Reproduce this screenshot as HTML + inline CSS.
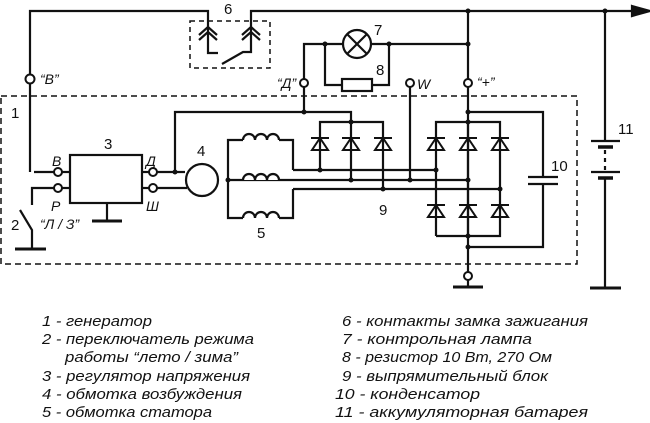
<!DOCTYPE html>
<html><head><meta charset="utf-8"><style>
html,body{margin:0;padding:0;background:#fff;}
svg{display:block;}
text{font-family:"Liberation Sans",sans-serif;font-style:italic;fill:#111;}
text.n{font-style:normal;}
</style></head><body>
<svg width="650" height="423" viewBox="0 0 650 423" xmlns="http://www.w3.org/2000/svg">
<defs>
<g id="dio"><polygon points="-8,16 8,16 0,4" fill="none" stroke="#111" stroke-width="2"/><line x1="-9" y1="4" x2="9" y2="4" stroke="#111" stroke-width="2"/></g>
</defs>
<g stroke="#111" stroke-width="2.2" fill="none">
<rect x="1" y="96" width="576" height="168" stroke-dasharray="6,4" stroke-width="1.5"/>
<rect x="190" y="21" width="80" height="47" stroke-dasharray="5,4" stroke-width="1.5"/>
<polyline points="30,172 30,11 208,11 208,53 218,53"/>
<polyline points="222,64 243,52 251,52 251,11 632,11"/>
<polygon points="632,6 650,11 632,16" fill="#111"/>
<polyline points="199,35 208,27 217,35"/><polyline points="199,40 208,32 217,40"/>
<polyline points="242,35 251,27 260,35"/><polyline points="242,40 251,32 260,40"/>
<rect x="70" y="155" width="72" height="48"/>
<line x1="34" y1="172" x2="54" y2="172"/>
<line x1="62" y1="172" x2="70" y2="172"/><line x1="62" y1="188" x2="70" y2="188"/>
<line x1="142" y1="172" x2="149" y2="172"/><line x1="142" y1="188" x2="149" y2="188"/>
<polyline points="54,188 32,188 32,205"/>
<polyline points="20,210 32,230 32,249"/>
<line x1="15" y1="249" x2="46" y2="249" stroke-width="3"/>
<line x1="107" y1="203" x2="107" y2="221"/>
<line x1="92" y1="221" x2="122" y2="221" stroke-width="3"/>
<polyline points="157,172 185,172"/><line x1="157" y1="188" x2="187" y2="188"/>
<circle cx="202" cy="180" r="16"/>
<polyline points="175,172 175,112 351,112 351,122"/>
<polyline points="304,112 304,87"/><polyline points="304,79 304,44 468,44"/>
<circle cx="357" cy="44" r="14" fill="#fff"/>
<line x1="347" y1="34" x2="367" y2="54"/><line x1="367" y1="34" x2="347" y2="54"/>
<polyline points="325,44 325,85 342,85"/><rect x="342" y="79" width="30" height="12"/>
<polyline points="372,85 389,85 389,44"/>
<line x1="410" y1="87" x2="410" y2="180"/>
<line x1="468" y1="11" x2="468" y2="79"/><line x1="468" y1="87" x2="468" y2="272"/>
<line x1="453" y1="287" x2="483" y2="287" stroke-width="3"/><line x1="468" y1="280" x2="468" y2="287"/>
<polyline points="468,112 543,112 543,177"/><polyline points="543,184 543,247 468,247"/>
<line x1="528" y1="177" x2="558" y2="177"/><line x1="528" y1="184" x2="558" y2="184"/>
<line x1="605" y1="11" x2="605" y2="141"/>
<line x1="591" y1="141" x2="620" y2="141"/><line x1="598" y1="147" x2="613" y2="147" stroke-width="3.5"/>
<line x1="605" y1="150" x2="605" y2="170" stroke-dasharray="4,4"/>
<line x1="591" y1="172" x2="620" y2="172"/><line x1="598" y1="178" x2="613" y2="178" stroke-width="3.5"/>
<line x1="605" y1="178" x2="605" y2="288"/>
<line x1="590" y1="288" x2="621" y2="288" stroke-width="3"/>
<polyline points="436,236 436,122 500,122 500,236 436,236"/>
<line x1="468" y1="122" x2="468" y2="236"/>
<polyline points="320,170 320,122 383,122 383,189"/>
<line x1="351" y1="122" x2="351" y2="180"/>
<line x1="293" y1="170" x2="436" y2="170"/>
<line x1="228" y1="180" x2="468" y2="180"/>
<line x1="293" y1="189" x2="500" y2="189"/>
<polyline points="243,140 228,140 228,218 243,218"/>
<polyline points="279,140 293,140 293,170"/>
<polyline points="279,218 293,218 293,189"/>
<path d="M243,140 a6,6 0 0 1 12,0 a6,6 0 0 1 12,0 a6,6 0 0 1 12,0" fill="#fff"/>
<path d="M243,180 a6,6 0 0 1 12,0 a6,6 0 0 1 12,0 a6,6 0 0 1 12,0" fill="#fff"/>
<path d="M243,218 a6,6 0 0 1 12,0 a6,6 0 0 1 12,0 a6,6 0 0 1 12,0" fill="#fff"/>
</g>
<g>
<use href="#dio" x="320" y="134"/><use href="#dio" x="351" y="134"/><use href="#dio" x="383" y="134"/>
<use href="#dio" x="436" y="134"/><use href="#dio" x="468" y="134"/><use href="#dio" x="500" y="134"/>
<use href="#dio" x="436" y="201"/><use href="#dio" x="468" y="201"/><use href="#dio" x="500" y="201"/>
</g>
<g stroke="#111" stroke-width="2" fill="#fff">
<circle cx="30" cy="79" r="4.5"/><circle cx="58" cy="172" r="4"/><circle cx="58" cy="188" r="4"/>
<circle cx="153" cy="172" r="4"/><circle cx="153" cy="188" r="4"/>
<circle cx="304" cy="83" r="4"/><circle cx="410" cy="83" r="4"/><circle cx="468" cy="83" r="4"/><circle cx="468" cy="276" r="4"/>
</g>
<g fill="#111">
<circle cx="175" cy="172" r="2.5"/><circle cx="228" cy="180" r="2.5"/><circle cx="304" cy="112" r="2.5"/>
<circle cx="325" cy="44" r="2.5"/><circle cx="389" cy="44" r="2.5"/><circle cx="468" cy="44" r="2.5"/>
<circle cx="468" cy="11" r="2.5"/><circle cx="605" cy="11" r="2.5"/><circle cx="468" cy="112" r="2.5"/>
<circle cx="351" cy="122" r="2.5"/><circle cx="468" cy="122" r="2.5"/>
<circle cx="320" cy="170" r="2.5"/><circle cx="351" cy="180" r="2.5"/><circle cx="383" cy="189" r="2.5"/>
<circle cx="436" cy="170" r="2.5"/><circle cx="468" cy="180" r="2.5"/><circle cx="500" cy="189" r="2.5"/>
<circle cx="410" cy="180" r="2.5"/><circle cx="468" cy="236" r="2.5"/><circle cx="468" cy="247" r="2.5"/>
</g>
<g font-size="14">
<text x="40" y="84">“В”</text>
<text x="277" y="88">“Д”</text>
<text x="417" y="89">W</text>
<text x="477" y="87">“+”</text>
<text x="52" y="166">В</text><text x="51" y="211">Р</text>
<text x="146" y="166">Д</text><text x="146" y="211">Ш</text>
<text x="40" y="229">“Л / З”</text>
<g font-size="15">
<text class="n" x="224" y="14">6</text><text class="n" x="11" y="118">1</text><text class="n" x="104" y="149">3</text>
<text class="n" x="197" y="156">4</text><text class="n" x="11" y="230">2</text><text class="n" x="257" y="238">5</text>
<text class="n" x="374" y="35">7</text><text class="n" x="376" y="75">8</text><text class="n" x="379" y="215">9</text>
<text class="n" x="551" y="171">10</text><text class="n" x="618" y="134">11</text>
</g>
</g>
<g font-size="14.5">
<text x="42" y="326" textLength="110" lengthAdjust="spacingAndGlyphs">1 - генератор</text>
<text x="42" y="344" textLength="212" lengthAdjust="spacingAndGlyphs">2 - переключатель режима</text>
<text x="65" y="362" textLength="173" lengthAdjust="spacingAndGlyphs">работы “лето / зима”</text>
<text x="42" y="381" textLength="208" lengthAdjust="spacingAndGlyphs">3 - регулятор напряжения</text>
<text x="42" y="399" textLength="200" lengthAdjust="spacingAndGlyphs">4 - обмотка возбуждения</text>
<text x="42" y="417" textLength="170" lengthAdjust="spacingAndGlyphs">5 - обмотка статора</text>
<text x="342" y="326" textLength="246" lengthAdjust="spacingAndGlyphs">6 - контакты замка зажигания</text>
<text x="342" y="344" textLength="190" lengthAdjust="spacingAndGlyphs">7 - контрольная лампа</text>
<text x="342" y="362" textLength="210" lengthAdjust="spacingAndGlyphs">8 - резистор 10 Вт, 270 Ом</text>
<text x="342" y="381" textLength="206" lengthAdjust="spacingAndGlyphs">9 - выпрямительный блок</text>
<text x="335" y="399" textLength="145" lengthAdjust="spacingAndGlyphs">10 - конденсатор</text>
<text x="335" y="417" textLength="253" lengthAdjust="spacingAndGlyphs">11 - аккумуляторная батарея</text>
</g>
</svg>
</body></html>
